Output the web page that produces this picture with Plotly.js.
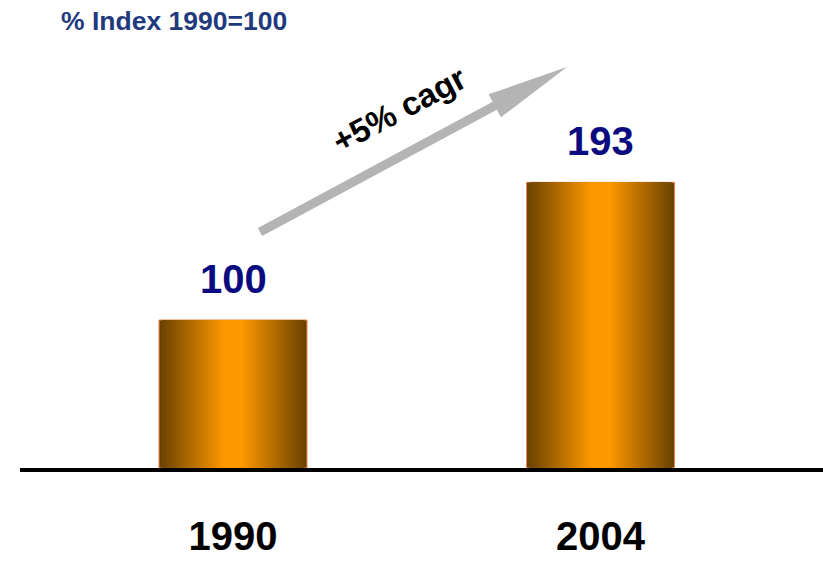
<!DOCTYPE html>
<html>
<head>
<meta charset="utf-8">
<script src="https://cdn.plot.ly/plotly-3.0.1.min.js"></script>
<style>html,body{margin:0;padding:0;background:#fff;}#chart{width:823px;height:561px;}</style>
</head>
<body>
<div id="chart"></div>
<script>
// ---- data ----
const categories = ['1990', '2004'];
const values = [100, 193];
const chartTitle = '% Index 1990=100';
const growthLabel = '+5% cagr';

// ---- styling ----
const BAR_W = 0.4027;
const N_LAYERS = 28;
const EDGE = [107, 66, 0];
const CENTER = [255, 153, 0];

function lerpColor(a, b, t) {
  const c = a.map((v, i) => Math.round(v + (b[i] - v) * t));
  return 'rgb(' + c.join(',') + ')';
}

const traces = [];
for (let k = 0; k < N_LAYERS; k++) {
  const f = 1 - k / N_LAYERS;           // width fraction (1 = edge)
  const t = Math.min(1, (1 - f) * 1.15); // towards centre colour
  traces.push({
    type: 'bar',
    x: categories,
    y: values,
    width: categories.map(() => BAR_W * f),
    marker: {
      color: lerpColor(EDGE, CENTER, t),
      line: k === 0 ? {color: '#f2844a', width: 1} : {width: 0}
    },
    hoverinfo: 'skip',
    showlegend: false
  });
}

// pixel helpers for decorations (plot area: x 20..823, y 24..468)
const PL = 20, PR = 823, PT = 24, PB = 468;
const px = X => (X - PL) / (PR - PL);
const py = Y => (PB - Y) / (PB - PT);

// arrow polygon (decoration)
function arrowPath() {
  const tail = [260, 232], tip = [567, 67];
  const dx = tip[0] - tail[0], dy = tip[1] - tail[1];
  const L = Math.hypot(dx, dy);
  const d = [dx / L, dy / L], n = [-d[1], d[0]];
  const headLen = 82, shaftHalf = 4.5, headHalf = 13;
  const base = [tip[0] - d[0] * headLen, tip[1] - d[1] * headLen];
  const pts = [
    [tail[0] + n[0] * shaftHalf, tail[1] + n[1] * shaftHalf],
    [base[0] + n[0] * shaftHalf, base[1] + n[1] * shaftHalf],
    [base[0] + n[0] * headHalf, base[1] + n[1] * headHalf],
    tip,
    [base[0] - n[0] * headHalf, base[1] - n[1] * headHalf],
    [base[0] - n[0] * shaftHalf, base[1] - n[1] * shaftHalf],
    [tail[0] - n[0] * shaftHalf, tail[1] - n[1] * shaftHalf]
  ];
  return 'M' + pts.map(p => px(p[0]).toFixed(5) + ',' + py(p[1]).toFixed(5)).join(' L') + ' Z';
}

const annotations = categories.map((c, i) => ({
  x: i, y: values[i], xref: 'x', yref: 'y',
  text: String(values[i]), showarrow: false,
  xanchor: 'center', yanchor: 'middle', yshift: 41,
  font: {family: 'Liberation Sans', size: 40, color: '#0b0b80', weight: 'bold'}
}));
annotations.push({
  x: px(399), y: py(109), xref: 'paper', yref: 'paper',
  text: growthLabel, showarrow: false, textangle: -28,
  xanchor: 'center', yanchor: 'middle',
  font: {family: 'Liberation Sans', size: 33, color: '#000', weight: 'bold'}
});

const layout = {
  width: 823, height: 561,
  margin: {l: PL, r: 0, t: PT, b: 561 - PB},
  paper_bgcolor: '#fff', plot_bgcolor: '#fff',
  barmode: 'overlay',
  title: {
    text: chartTitle, xref: 'container', yref: 'container',
    x: 61 / 823, xanchor: 'left', y: 1 - 21 / 561, yanchor: 'middle',
    font: {family: 'Liberation Sans', size: 26.5, color: '#1f3a7d', weight: 'bold'}
  },
  xaxis: {
    type: 'category', range: [-0.5796, 1.6054],
    showline: true, linecolor: '#000', linewidth: 4,
    showgrid: false, zeroline: false,
    ticks: 'outside', ticklen: 30, tickcolor: 'rgba(0,0,0,0)',
    tickfont: {family: 'Liberation Sans', size: 40, color: '#000', weight: 'bold'},
    fixedrange: true
  },
  yaxis: {
    range: [0, 300], visible: false, showgrid: false, zeroline: false, fixedrange: true
  },
  shapes: [{
    type: 'path', xref: 'paper', yref: 'paper', path: arrowPath(),
    fillcolor: '#b4b4b4', line: {width: 0}, layer: 'above'
  }],
  annotations: annotations
};

Plotly.newPlot('chart', traces, layout, {displayModeBar: false, staticPlot: true});
</script>
</body>
</html>
